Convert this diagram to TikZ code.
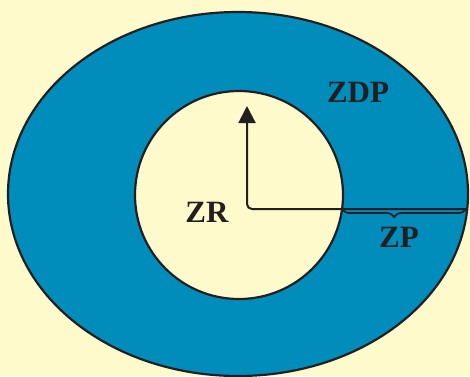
\documentclass[tikz,border=0pt]{standalone}
\usepackage{fontspec}
\setmainfont{Liberation Serif}
\usetikzlibrary{arrows.meta, positioning, shapes.geometric, decorations.pathreplacing}
\definecolor{cback}{HTML}{FFFACC}
\definecolor{cblue}{HTML}{008DBB}
\definecolor{cline}{HTML}{231F20}

\begin{document}
\begin{tikzpicture}[
  x=1pt, y=-1pt,
  font=\fontsize{31}{31}\selectfont\bfseries,
  >={Triangle[length=17pt, width=17pt]},
  zone/.style={draw=cline, line width=2.2pt, inner sep=0pt},
  lbl/.style={text=cline, inner sep=0pt},
  arr/.style={->, line width=2pt, draw=cline, rounded corners=5pt},
  ]
\fill[cback] (0,0) rectangle (470,376);
\useasboundingbox (0,0) rectangle (470,376);

\node[zone, ellipse, fill=cblue, minimum width=460pt, minimum height=364pt] (zdp) at (238,194) {};
\node[zone, circle, fill=cback, minimum size=208pt] (zr) at (239,195) {};

\coordinate (rim) at (466,209);
\coordinate (edge) at (342,209);
\coordinate (tip) at (247,106);

\draw[arr] (rim) -- (tip |- rim) -- (tip);
\draw[line width=1.8pt, draw=cline, decorate,
      decoration={brace, mirror, amplitude=8pt, aspect=0.42}] (edge) -- (rim);

\node[lbl] (zrlbl) at (207,212) {ZR};
\node[lbl] (zplbl) at (399,237) {ZP};
\node[lbl] (zdplbl) at (358,92) {ZDP};
\end{tikzpicture}
\end{document}
